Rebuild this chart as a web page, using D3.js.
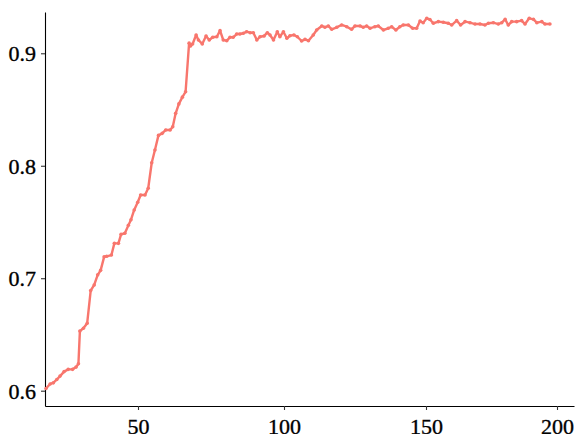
<!DOCTYPE html>
<html>
<head>
<meta charset="utf-8">
<script src="https://cdn.jsdelivr.net/npm/d3@7"></script>
<style>
  html, body { margin: 0; padding: 0; background: #fff; }
  svg { display: block; }
</style>
</head>
<body>
<svg id="chart" width="575" height="434"></svg>
<script>
// ---- data ----
const xValues = [
  18.5, 19.9, 21.0, 22.2, 23.3, 24.7, 26.1, 27.6, 28.8, 29.6,
  30.1, 31.3, 32.6, 33.8, 35.0, 36.2, 37.2, 38.4, 39.3, 40.9,
  41.9, 43.3, 44.2, 45.5, 46.7, 47.6, 48.7, 49.9, 50.9, 52.4,
  53.5, 54.7, 55.8, 57.0, 58.3, 59.5, 61.0, 61.9, 62.9, 64.0,
  65.2, 66.3, 67.5, 68.0, 68.7, 69.9, 70.7, 72.0, 73.3, 74.4,
  75.6, 77.0, 78.1, 79.2, 80.4, 81.5, 82.6, 83.8, 84.9, 86.1,
  87.2, 88.4, 89.5, 90.7, 91.8, 93.2, 94.3, 95.2, 96.4, 97.7,
  98.6, 99.8, 101.0, 102.1, 103.5, 104.7, 106.2, 107.4, 108.6, 110.3,
  111.5, 113.3, 114.4, 115.6, 116.8, 118.6, 120.3, 122.1, 123.8, 125.0,
  126.8, 127.9, 129.1, 130.3, 132.0, 133.2, 135.0, 136.7, 137.9, 139.4,
  140.8, 142.0, 143.8, 145.3, 146.7, 147.9, 149.0, 150.3, 151.5, 152.8,
  154.7, 156.6, 158.5, 159.8, 161.7, 163.2, 164.9, 166.8, 168.7, 170.6,
  172.5, 173.8, 175.7, 177.6, 178.9, 180.2, 181.4, 182.7, 184.6, 186.5,
  187.8, 189.4, 191.0, 192.3, 194.2, 195.4, 197.3
];
const yValues = [
  0.602, 0.606, 0.607, 0.610, 0.613, 0.617, 0.619, 0.619, 0.621, 0.624,
  0.653, 0.6555, 0.660, 0.689, 0.694, 0.703, 0.707, 0.719, 0.7195, 0.7206,
  0.731, 0.731, 0.739, 0.740, 0.747, 0.752, 0.7607, 0.7675, 0.774, 0.774,
  0.780, 0.8027, 0.814, 0.827, 0.8288, 0.8318, 0.8318, 0.8347, 0.8466, 0.855,
  0.861, 0.8658, 0.909, 0.9065, 0.9083, 0.9163, 0.9118, 0.9083, 0.9154, 0.9118,
  0.9142, 0.9147, 0.9201, 0.9118, 0.9112, 0.9142, 0.9142, 0.9171, 0.9171, 0.9178,
  0.9192, 0.9183, 0.9183, 0.9118, 0.9147, 0.9154, 0.9183, 0.9163, 0.9118, 0.9192,
  0.9147, 0.9192, 0.9133, 0.9156, 0.9163, 0.9147, 0.9109, 0.9124, 0.9112, 0.9163,
  0.9207, 0.9243, 0.9231, 0.9243, 0.9213, 0.9231, 0.9252, 0.9236, 0.9213, 0.9243,
  0.9243, 0.9231, 0.9243, 0.9222, 0.9236, 0.9243, 0.9207, 0.9222, 0.9236, 0.9207,
  0.9236, 0.9252, 0.9252, 0.9222, 0.9222, 0.9287, 0.9272, 0.9311, 0.9300, 0.9267,
  0.9281, 0.9276, 0.9267, 0.9251, 0.9290, 0.9251, 0.9281, 0.9272, 0.9260, 0.9260,
  0.9251, 0.9267, 0.9272, 0.9260, 0.9272, 0.9302, 0.9251, 0.9281, 0.9281, 0.9290,
  0.9260, 0.9311, 0.9302, 0.9272, 0.9281, 0.9260, 0.9260
];
const xTicks = [50, 100, 150, 200];
const yTicks = [0.6, 0.7, 0.8, 0.9];
const xTickLabels = ["50", "100", "150", "200"];
const yTickLabels = ["0.6", "0.7", "0.8", "0.9"];

const data = xValues.map((x, i) => ({ x: x, y: yValues[i] }));

const svg = d3.select("#chart");
const color = "#F8766D";
const FONT = "Liberation Serif";

// x axis in the reference has slightly uneven tick spacing -> polylinear scale
const x = d3.scaleLinear()
  .domain([18.15, 50, 100, 150, 200, 206.5])
  .range([45, 138, 284, 426, 557, 574]);
const y = d3.scaleLinear()
  .domain([0.5864, 0.9367])
  .range([406, 12]);

const xAxis = d3.axisBottom(x)
  .tickValues(xTicks)
  .tickFormat((d, i) => xTickLabels[i])
  .tickSizeInner(4).tickSizeOuter(0).tickPadding(8);
const yAxis = d3.axisLeft(y)
  .tickValues(yTicks)
  .tickFormat((d, i) => yTickLabels[i])
  .tickSizeInner(4).tickSizeOuter(0).tickPadding(5);

const gx = svg.append("g").attr("transform", "translate(0,406)").call(xAxis);
const gy = svg.append("g").attr("transform", "translate(45,0)").call(yAxis);

[gx, gy].forEach(g => {
  g.attr("font-family", FONT).attr("font-size", 22);
  g.select(".domain").attr("stroke", "#000").attr("stroke-width", 1.1);
  g.selectAll(".tick line").attr("stroke", "#333").attr("stroke-width", 1.1);
  g.selectAll(".tick text")
    .attr("fill", "#000")
    .attr("stroke", "#000")
    .attr("stroke-width", 0.35)
    .attr("font-family", FONT)
    .attr("font-size", 22);
});
gy.selectAll(".tick text").attr("dy", "0.34em");
gx.selectAll(".tick text").attr("dy", "0.71em");

const line = d3.line().x(d => x(d.x)).y(d => y(d.y));

svg.append("path")
  .datum(data)
  .attr("fill", "none")
  .attr("stroke", color)
  .attr("stroke-width", 2.4)
  .attr("stroke-linejoin", "round")
  .attr("d", line);

svg.append("g")
  .selectAll("circle")
  .data(data)
  .join("circle")
  .attr("cx", d => x(d.x))
  .attr("cy", d => y(d.y))
  .attr("r", 1.8)
  .attr("fill", color);
</script>
</body>
</html>
